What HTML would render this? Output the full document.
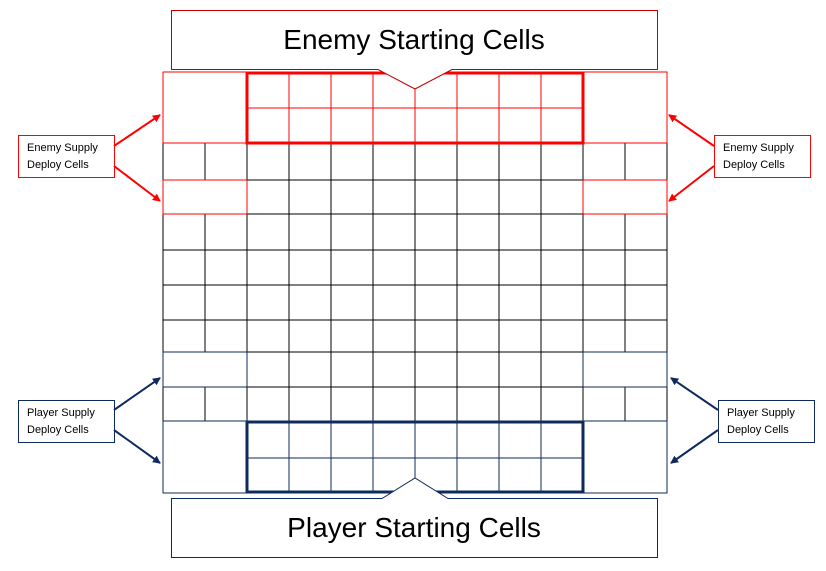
<!DOCTYPE html>
<html><head><meta charset="utf-8"><style>body{margin:0;background:#fff}svg{display:block}</style></head><body>
<svg width="826" height="571" xmlns="http://www.w3.org/2000/svg" font-family="Liberation Sans, sans-serif">
<defs>
<marker id="ar" markerWidth="8" markerHeight="8" refX="7" refY="4" orient="auto" markerUnits="userSpaceOnUse"><path d="M0,0 L8,4 L0,8 z" fill="#f00"/></marker>
<marker id="ab" markerWidth="8" markerHeight="8" refX="7" refY="4" orient="auto" markerUnits="userSpaceOnUse"><path d="M0,0 L8,4 L0,8 z" fill="#0f2a5e"/></marker>
</defs>
<g fill="none" stroke-width="1" shape-rendering="crispEdges">
<g stroke="#000">
<path d="M163,143 H667 M163,180 H667 M163,214 H667 M163,250 H667 M163,285 H667 M163,320 H667 M163,352 H667 M163,387 H667 M163,421 H667"/>
<path d="M163,143 V421 M667,143 V421"/>
<path d="M205,143 V180 M205,214 V352 M205,387 V421"/>
<path d="M625,143 V180 M625,214 V352 M625,387 V421"/>
<path d="M247,143 V421 M289,143 V421 M331,143 V421 M373,143 V421 M415,143 V421 M457,143 V421 M499,143 V421 M541,143 V421 M583,143 V421"/>
</g>
<g stroke="#f00">
<rect x="163" y="72" width="84" height="71"/>
<rect x="583" y="72" width="84" height="71"/>
<rect x="163" y="180" width="84" height="34"/>
<rect x="583" y="180" width="84" height="34"/>
<path d="M247,108 H583 M289,72 V143 M331,72 V143 M373,72 V143 M415,88 V143 M457,72 V143 M499,72 V143 M541,72 V143"/>
<rect x="247" y="73" width="336" height="70" stroke-width="3"/>
</g>
<g stroke="#0f2a5e">
<rect x="163" y="352" width="84" height="35"/>
<rect x="583" y="352" width="84" height="35"/>
<rect x="163" y="421" width="84" height="72"/>
<rect x="583" y="421" width="84" height="72"/>
<path d="M247,458 H583 M289,421 V493 M331,421 V493 M373,421 V493 M415,421 V478 M457,421 V493 M499,421 V493 M541,421 V493"/>
<rect x="247" y="422" width="336" height="70" stroke-width="3"/>
</g>
</g>
<path d="M171.5,10.5 H657.5 V69.5 H452 L415,89 L378,69.5 H171.5 Z" fill="#fff" stroke="#c00000"/>
<text x="414" y="49" font-size="28" text-anchor="middle" fill="#000">Enemy Starting Cells</text>
<path d="M171.5,498.5 H382 L415,478 L448,498.5 H657.5 V557.5 H171.5 Z" fill="#fff" stroke="#0f2a5e"/>
<text x="414" y="537" font-size="28" text-anchor="middle" fill="#000">Player Starting Cells</text>
<g font-size="11" fill="#000">
<rect x="18.5" y="135.5" width="96" height="42" fill="#fff" stroke="#f00"/>
<text x="27" y="151">Enemy Supply</text><text x="27" y="168">Deploy Cells</text>
<rect x="714.5" y="135.5" width="96" height="42" fill="#fff" stroke="#f00"/>
<text x="723" y="151">Enemy Supply</text><text x="723" y="168">Deploy Cells</text>
<rect x="18.5" y="400.5" width="96" height="42" fill="#fff" stroke="#0f2a5e"/>
<text x="27" y="416">Player Supply</text><text x="27" y="433">Deploy Cells</text>
<rect x="718.5" y="400.5" width="96" height="42" fill="#fff" stroke="#0f2a5e"/>
<text x="727" y="416">Player Supply</text><text x="727" y="433">Deploy Cells</text>
</g>
<g stroke-width="2">
<line x1="114" y1="146" x2="160" y2="115" stroke="#f00" marker-end="url(#ar)"/>
<line x1="114" y1="166" x2="160" y2="201" stroke="#f00" marker-end="url(#ar)"/>
<line x1="714" y1="146" x2="669" y2="115" stroke="#f00" marker-end="url(#ar)"/>
<line x1="714" y1="166" x2="669" y2="201" stroke="#f00" marker-end="url(#ar)"/>
<line x1="114" y1="410" x2="160" y2="378" stroke="#0f2a5e" marker-end="url(#ab)"/>
<line x1="114" y1="430" x2="160" y2="463" stroke="#0f2a5e" marker-end="url(#ab)"/>
<line x1="718" y1="410" x2="671" y2="378" stroke="#0f2a5e" marker-end="url(#ab)"/>
<line x1="718" y1="430" x2="671" y2="463" stroke="#0f2a5e" marker-end="url(#ab)"/>
</g>
</svg>
</body></html>
